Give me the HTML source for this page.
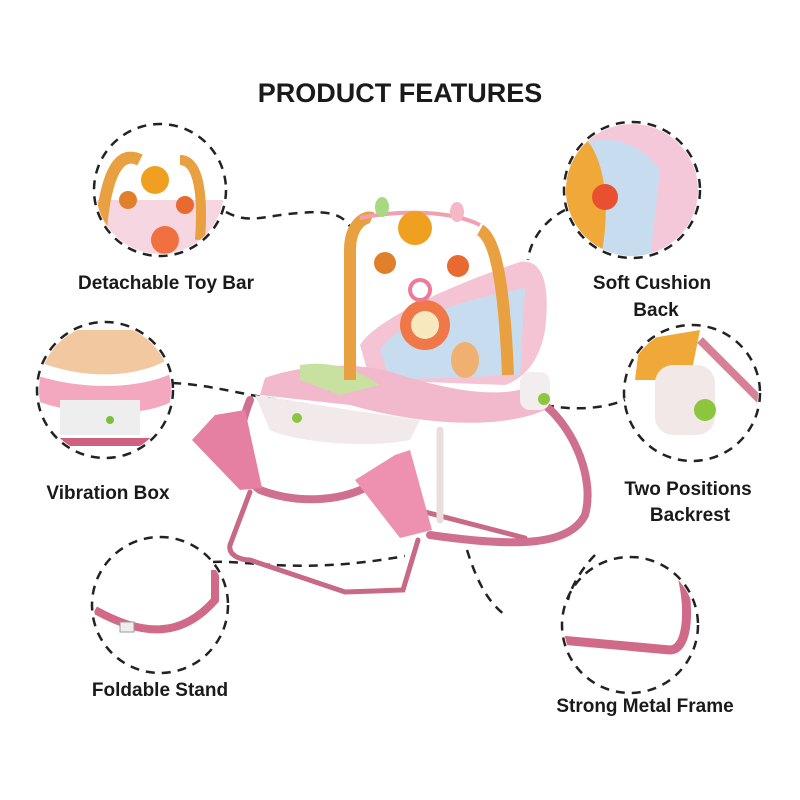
<!DOCTYPE html>
<html><head><style>
body{margin:0;background:#fff;}
svg{display:block}
text{font-family:"Liberation Sans",sans-serif;font-weight:bold;fill:#1a1a1a}
</style></head><body>
<svg width="800" height="800" viewBox="0 0 800 800">
<text x="400" y="102" font-size="27" text-anchor="middle">PRODUCT FEATURES</text>
<g fill="none" stroke="#222" stroke-width="2.5" stroke-dasharray="9 7">
<circle cx="160" cy="190" r="66"/>
<circle cx="632" cy="190" r="68"/>
<circle cx="105" cy="390" r="68"/>
<circle cx="692" cy="393" r="68"/>
<circle cx="160" cy="605" r="68"/>
<circle cx="630" cy="625" r="68"/>
<path d="M226 212 C250 225 265 215 300 213 C330 210 345 215 352 230"/>
<path d="M565 210 C545 220 530 240 528 260"/>
<path d="M172 383 C215 385 240 395 310 405"/>
<path d="M545 405 C570 410 600 410 625 400"/>
<path d="M213 562 C250 560 300 575 405 556"/>
<path d="M467 550 C475 575 485 600 505 615"/>
<path d="M595 555 C580 570 570 590 568 600"/>
</g>
<g font-size="19">
<text x="166" y="289" text-anchor="middle">Detachable Toy Bar</text>
<text x="652" y="289" text-anchor="middle">Soft Cushion</text>
<text x="656" y="316" text-anchor="middle">Back</text>
<text x="108" y="499" text-anchor="middle">Vibration Box</text>
<text x="688" y="495" text-anchor="middle">Two Positions</text>
<text x="690" y="521" text-anchor="middle">Backrest</text>
<text x="160" y="696" text-anchor="middle">Foldable Stand</text>
<text x="645" y="712" text-anchor="middle">Strong Metal Frame</text>
</g>
<defs>
<clipPath id="c1"><circle cx="160" cy="190" r="64"/></clipPath>
<clipPath id="c2"><circle cx="632" cy="190" r="66"/></clipPath>
<clipPath id="c3"><circle cx="105" cy="390" r="66"/></clipPath>
<clipPath id="c4"><circle cx="692" cy="393" r="66"/></clipPath>
<clipPath id="c5"><circle cx="160" cy="605" r="66"/></clipPath>
<clipPath id="c6"><circle cx="630" cy="625" r="66"/></clipPath>
</defs>
<g clip-path="url(#c1)">
<rect x="90" y="200" width="140" height="60" fill="#f6d6e0"/>
<path d="M100 240 C105 170 120 150 140 160" stroke="#e8a040" stroke-width="12" fill="none"/>
<path d="M200 240 C205 170 190 160 180 160" stroke="#e8a040" stroke-width="10" fill="none"/>
<circle cx="155" cy="180" r="14" fill="#f0a020"/>
<circle cx="128" cy="200" r="9" fill="#e0802a"/>
<circle cx="185" cy="205" r="9" fill="#e86a30"/>
<circle cx="165" cy="240" r="14" fill="#f07040"/>
</g>
<g clip-path="url(#c2)">
<rect x="560" y="120" width="140" height="140" fill="#f4c8d8"/>
<path d="M570 150 C600 130 640 140 660 170 L650 260 L560 260Z" fill="#c8dcf0"/>
<path d="M575 130 C610 150 610 220 600 260 L560 260 L560 130Z" fill="#f0a838"/>
<circle cx="605" cy="197" r="13" fill="#e85030"/>
</g>
<g clip-path="url(#c3)">
<rect x="35" y="320" width="140" height="140" fill="#fff"/>
<path d="M35 360 C80 380 140 380 175 355 L175 330 L35 330Z" fill="#f2c8a0"/>
<path d="M35 375 C80 390 140 390 175 372 L175 400 C140 420 70 415 35 400Z" fill="#f3a8c0"/>
<rect x="60" y="400" width="80" height="35" fill="#eee" />
<rect x="40" y="438" width="140" height="8" fill="#d06080"/>
<circle cx="110" cy="420" r="4" fill="#7ac040"/>
</g>
<g clip-path="url(#c4)">
<rect x="625" y="325" width="140" height="140" fill="#fff"/>
<path d="M640 340 L700 330 L690 380 L635 380Z" fill="#f0a838"/>
<rect x="655" y="365" width="60" height="70" rx="18" fill="#f2e8e8"/>
<circle cx="705" cy="410" r="11" fill="#8cc63f"/>
<path d="M700 340 L760 400" stroke="#d88098" stroke-width="8"/>
</g>
<g clip-path="url(#c5)">
<path d="M95 610 C140 635 180 640 215 600 L215 570" stroke="#d06a88" stroke-width="8" fill="none"/>
<rect x="120" y="622" width="14" height="10" fill="#eee" stroke="#999"/>
</g>
<g clip-path="url(#c6)">
<path d="M560 640 L670 650 C690 650 690 600 680 570" stroke="#d06a88" stroke-width="9" fill="none"/>
</g>
<!-- chair frame -->
<g fill="none" stroke-linecap="round">
<path d="M250 492 L230 545 C228 555 240 560 250 560 L345 592 L403 590 L418 540" stroke="#c86a86" stroke-width="5"/>
<path d="M398 505 L525 538" stroke="#c86a86" stroke-width="5"/>
<path d="M440 430 L440 520" stroke="#e8dede" stroke-width="7"/>
<path d="M250 400 C238 430 232 470 260 490 C300 505 340 500 365 488" stroke="#d07090" stroke-width="8"/>
<path d="M545 405 C575 430 595 480 585 515 C570 545 520 548 430 535" stroke="#d07090" stroke-width="8"/>
</g>
<path d="M192 440 L215 415 L245 410 L262 488 L240 490Z" fill="#e680a2"/>
<path d="M355 480 L395 455 L410 450 L432 530 L400 538Z" fill="#ee90b0"/>
<!-- seat -->
<path d="M360 345 C375 320 450 285 520 262 C545 258 550 290 545 330 C540 360 525 378 505 385 L370 380Z" fill="#f4c4d4"/>
<path d="M380 350 C400 320 460 300 525 288 L520 375 L390 380Z" fill="#c8dcf0"/>
<circle cx="425" cy="325" r="25" fill="#f07848"/>
<circle cx="425" cy="325" r="14" fill="#f8e8c0"/>
<ellipse cx="465" cy="360" rx="14" ry="18" fill="#f0b070"/>
<path d="M265 378 C300 365 360 360 400 375 C450 390 500 400 535 385 L545 410 C500 430 420 425 350 405 L260 395Z" fill="#f2b8cc"/>
<path d="M300 365 C330 360 360 370 380 385 L340 395 L300 380Z" fill="#c8e0a0"/>
<path d="M255 395 L350 410 L420 420 L410 440 C360 450 290 440 270 430 Z" fill="#f2eaea"/>
<circle cx="297" cy="418" r="5" fill="#8cc63f"/>
<rect x="520" y="372" width="30" height="38" rx="10" fill="#f3eeee"/>
<circle cx="544" cy="399" r="6" fill="#8cc63f"/>
<g fill="none">
<path d="M350 380 L350 250 C350 225 365 215 372 218" stroke="#e8a040" stroke-width="12"/>
<path d="M508 375 C505 300 498 240 480 230" stroke="#e8a040" stroke-width="12"/>
<path d="M360 218 C400 210 450 210 480 225" stroke="#f0a0b0" stroke-width="4"/>
</g>
<ellipse cx="382" cy="207" rx="7" ry="10" fill="#a8d880"/>
<ellipse cx="457" cy="212" rx="7" ry="10" fill="#f4b8c8"/>
<circle cx="415" cy="228" r="17" fill="#f0a020"/>
<circle cx="385" cy="263" r="11" fill="#e0802a"/>
<circle cx="458" cy="266" r="11" fill="#e86a30"/>
<path d="M420 280 a10 10 0 1 0 0.1 0" stroke="#f07898" stroke-width="4" fill="none"/>
</svg>
</body></html>
